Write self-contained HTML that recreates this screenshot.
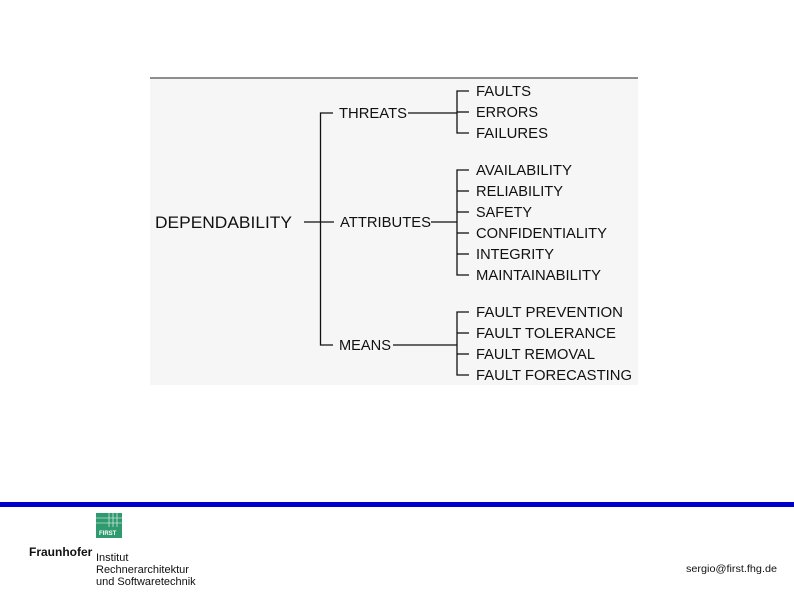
<!DOCTYPE html>
<html><head><meta charset="utf-8"><style>
html,body{margin:0;padding:0;background:#fff;}
svg{display:block;font-family:"Liberation Sans",Arial,sans-serif;}
</style></head><body>
<svg width="794" height="595" viewBox="0 0 794 595" xmlns="http://www.w3.org/2000/svg">
<rect x="150" y="78" width="488" height="307" fill="#f6f6f6"/>
<line x1="150" y1="78" x2="638" y2="78" stroke="#222" stroke-width="1"/>
<g stroke="#111" stroke-width="1.3" fill="none">
<line x1="304" y1="222" x2="334" y2="222"/>
<polyline points="333,113 320.5,113 320.5,345 333,345"/>
<line x1="408" y1="113" x2="457" y2="113"/>
<line x1="431" y1="222" x2="457" y2="222"/>
<line x1="393" y1="345" x2="457" y2="345"/>
<polyline points="469,91 457,91 457,133 469,133"/><line x1="457" y1="112" x2="469" y2="112"/>
<polyline points="469,170 457,170 457,275 469,275"/>
<line x1="457" y1="191" x2="469" y2="191"/><line x1="457" y1="212" x2="469" y2="212"/>
<line x1="457" y1="233" x2="469" y2="233"/><line x1="457" y1="254" x2="469" y2="254"/>
<polyline points="469,312 457,312 457,375 469,375"/>
<line x1="457" y1="333" x2="469" y2="333"/><line x1="457" y1="354" x2="469" y2="354"/>
</g>
<g fill="#111" font-size="14.5" lengthAdjust="spacingAndGlyphs">
<text x="155" y="228" font-size="17" textLength="137" lengthAdjust="spacingAndGlyphs">DEPENDABILITY</text>
<text x="339" y="118" textLength="68" lengthAdjust="spacingAndGlyphs">THREATS</text>
<text x="340" y="227" textLength="91" lengthAdjust="spacingAndGlyphs">ATTRIBUTES</text>
<text x="339" y="350" textLength="52" lengthAdjust="spacingAndGlyphs">MEANS</text>
<text x="476" y="96" textLength="55" lengthAdjust="spacingAndGlyphs">FAULTS</text>
<text x="476" y="117" textLength="62" lengthAdjust="spacingAndGlyphs">ERRORS</text>
<text x="476" y="138" textLength="72" lengthAdjust="spacingAndGlyphs">FAILURES</text>
<text x="476" y="175" textLength="96" lengthAdjust="spacingAndGlyphs">AVAILABILITY</text>
<text x="476" y="196" textLength="87" lengthAdjust="spacingAndGlyphs">RELIABILITY</text>
<text x="476" y="217" textLength="56" lengthAdjust="spacingAndGlyphs">SAFETY</text>
<text x="476" y="238" textLength="131" lengthAdjust="spacingAndGlyphs">CONFIDENTIALITY</text>
<text x="476" y="259" textLength="78" lengthAdjust="spacingAndGlyphs">INTEGRITY</text>
<text x="476" y="280" textLength="125" lengthAdjust="spacingAndGlyphs">MAINTAINABILITY</text>
<text x="476" y="317" textLength="147" lengthAdjust="spacingAndGlyphs">FAULT PREVENTION</text>
<text x="476" y="338" textLength="140" lengthAdjust="spacingAndGlyphs">FAULT TOLERANCE</text>
<text x="476" y="359" textLength="119" lengthAdjust="spacingAndGlyphs">FAULT REMOVAL</text>
<text x="476" y="380" textLength="156" lengthAdjust="spacingAndGlyphs">FAULT FORECASTING</text>
</g>
<rect x="0" y="502" width="794" height="5" fill="#0000cc"/>
<rect x="96" y="513" width="26" height="25" fill="#2e9a6e"/>
<g stroke="#fff" stroke-width="0.6">
<line x1="96" y1="518" x2="122" y2="518"/><line x1="96" y1="523" x2="122" y2="523"/>
<line x1="109" y1="513" x2="109" y2="527"/><line x1="113" y1="513" x2="113" y2="527"/><line x1="117" y1="513" x2="117" y2="527"/>
</g>
<text x="99" y="535" font-size="6" fill="#fff" font-weight="bold">FIRST</text>
<text x="29" y="556" font-size="12" fill="#111" font-weight="bold">Fraunhofer</text>
<g font-size="11" fill="#111">
<text x="96" y="561">Institut</text>
<text x="96" y="573">Rechnerarchitektur</text>
<text x="96" y="585">und Softwaretechnik</text>
</g>
<text x="686" y="572" font-size="10" fill="#111" textLength="91" lengthAdjust="spacingAndGlyphs">sergio@first.fhg.de</text>
</svg>
</body></html>
